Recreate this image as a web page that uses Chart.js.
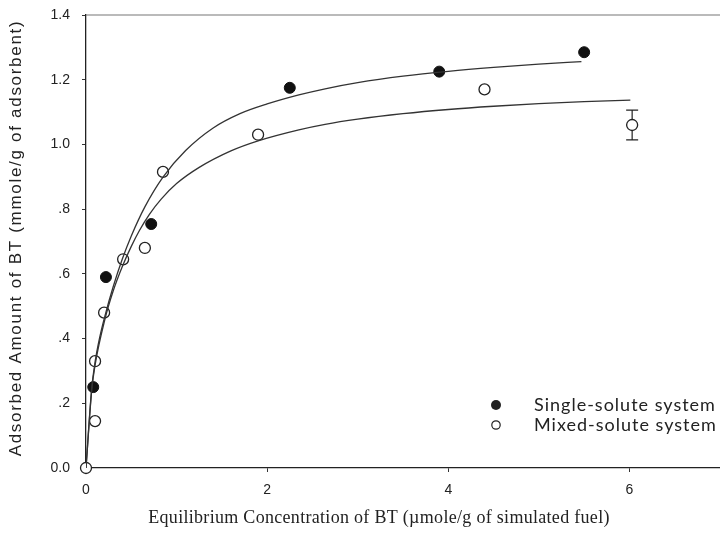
<!DOCTYPE html>
<html>
<head>
<meta charset="utf-8">
<script src="https://cdn.jsdelivr.net/npm/chart.js@4.4.1/dist/chart.umd.min.js"></script>
<style>
  html, body { margin: 0; padding: 0; background: #fff; }
  #wrap { width: 720px; height: 551px; position: relative; }
</style>
</head>
<body>
<div id="wrap"><canvas id="chart"></canvas></div>
<script>
// BT adsorption isotherms: single-solute vs mixed-solute

// measured points
const singleX = [0.08, 0.22, 0.72, 2.25, 3.90, 5.50];
const singleY = [0.25, 0.59, 0.754, 1.175, 1.225, 1.285];
const mixedX = [0, 0.10, 0.10, 0.20, 0.41, 0.65, 0.85, 1.90, 4.40, 6.03];
const mixedY = [0, 0.145, 0.33, 0.48, 0.645, 0.68, 0.915, 1.03, 1.17, 1.06];
const mixedErr = [0, 0, 0, 0, 0, 0, 0, 0, 0, 0.046];

// fitted isotherm curves
const singleFitX = [0, 0.063, 0.1, 0.15, 0.21, 0.3, 0.4, 0.5, 0.65, 0.85, 1.1, 1.4, 1.7, 2.0, 2.35, 2.64, 3.0, 3.5, 4.0, 4.5, 5.0, 5.47];
const singleFitY = [0, 0.246, 0.327, 0.402, 0.471, 0.560, 0.645, 0.717, 0.807, 0.899, 0.981, 1.050, 1.095, 1.125, 1.153, 1.172, 1.191, 1.211, 1.226, 1.238, 1.248, 1.256];
const mixedFitX = [0, 0.063, 0.1, 0.21, 0.3, 0.4, 0.5, 0.59, 0.7, 0.83, 1.0, 1.25, 1.6, 1.9, 2.35, 2.64, 3.0, 3.5, 4.0, 4.5, 5.0, 5.5, 6.01];
const mixedFitY = [0, 0.240, 0.318, 0.461, 0.547, 0.622, 0.685, 0.734, 0.784, 0.831, 0.879, 0.929, 0.980, 1.011, 1.045, 1.062, 1.078, 1.095, 1.108, 1.118, 1.126, 1.132, 1.137];

// axes
const xTicks = [0, 2, 4, 6];
const yTicks = [0, 0.2, 0.4, 0.6, 0.8, 1.0, 1.2, 1.4];
const yTickLabels = ['0.0', '.2', '.4', '.6', '.8', '1.0', '1.2', '1.4'];

const xTitle = 'Equilibrium Concentration of BT (\u00b5mole/g of simulated fuel)';
const yTitle = 'Adsorbed Amount of BT (mmole/g of adsorbent)';
const legendLabels = ['Single-solute system', 'Mixed-solute system'];

const toPoints = (xs, ys) => xs.map((x, i) => ({ x: x, y: ys[i] }));

// error bars, frame top line, titles and in-plot legend
const extras = {
  id: 'extras',
  afterDatasetsDraw(chart) {
    const ctx = chart.ctx;
    const xs = chart.scales.x, ys = chart.scales.y;
    const area = chart.chartArea;
    ctx.save();

    ctx.strokeStyle = '#222';
    ctx.lineWidth = 1.2;
    mixedErr.forEach((e, i) => {
      if (!e) return;
      const px = xs.getPixelForValue(mixedX[i]);
      const mid = ys.getPixelForValue(mixedY[i]);
      const top = ys.getPixelForValue(mixedY[i] + e);
      const bot = ys.getPixelForValue(mixedY[i] - e);
      ctx.beginPath();
      ctx.moveTo(px, top); ctx.lineTo(px, mid - 5);
      ctx.moveTo(px, mid + 5); ctx.lineTo(px, bot);
      ctx.moveTo(px - 6, top); ctx.lineTo(px + 6, top);
      ctx.moveTo(px - 6, bot); ctx.lineTo(px + 6, bot);
      ctx.stroke();
    });

    // top frame
    ctx.strokeStyle = '#777';
    ctx.lineWidth = 1.2;
    ctx.beginPath();
    ctx.moveTo(area.left, area.top);
    ctx.lineTo(area.right, area.top);
    ctx.stroke();

    // axis titles
    ctx.fillStyle = '#222';
    ctx.textAlign = 'center';
    ctx.textBaseline = 'middle';
    ctx.font = '18px "Liberation Serif"';
    ctx.letterSpacing = '0.3px';
    ctx.fillText(xTitle, 379, 518);

    ctx.save();
    ctx.translate(16, 238);
    ctx.rotate(-Math.PI / 2);
    ctx.font = '17px "Liberation Sans"';
    ctx.letterSpacing = '1.7px';
    ctx.fillText(yTitle, 0, 0);
    ctx.restore();

    // legend
    ctx.font = '18px "Lato"';
    ctx.letterSpacing = '1px';
    ctx.textAlign = 'left';
    ctx.fillStyle = '#222';
    ctx.beginPath();
    ctx.arc(496, 405, 5, 0, Math.PI * 2);
    ctx.fill();
    ctx.beginPath();
    ctx.arc(496, 425, 4.2, 0, Math.PI * 2);
    ctx.lineWidth = 1.2;
    ctx.strokeStyle = '#222';
    ctx.stroke();
    ctx.fillText(legendLabels[0], 534, 405);
    ctx.fillText(legendLabels[1], 534, 425);

    ctx.restore();
  }
};

new Chart(document.getElementById('chart'), {
  type: 'scatter',
  data: {
    datasets: [
      {
        label: 'single fit',
        data: toPoints(singleFitX, singleFitY),
        showLine: true,
        borderColor: '#333',
        borderWidth: 1.3,
        pointRadius: 0,
        cubicInterpolationMode: 'monotone',
        fill: false
      },
      {
        label: 'mixed fit',
        data: toPoints(mixedFitX, mixedFitY),
        showLine: true,
        borderColor: '#333',
        borderWidth: 1.3,
        pointRadius: 0,
        cubicInterpolationMode: 'monotone',
        fill: false
      },
      {
        label: legendLabels[0],
        data: toPoints(singleX, singleY),
        pointStyle: 'circle',
        pointRadius: 5.5,
        backgroundColor: '#111',
        borderColor: '#111',
        borderWidth: 1,
        clip: false
      },
      {
        label: legendLabels[1],
        data: toPoints(mixedX, mixedY),
        pointStyle: 'circle',
        pointRadius: 5.5,
        backgroundColor: '#fff',
        borderColor: '#222',
        borderWidth: 1.3,
        clip: false
      }
    ]
  },
  options: {
    responsive: true,
    maintainAspectRatio: false,
    animation: false,
    layout: { autoPadding: false, padding: { top: 15, right: 0, left: 0, bottom: 0 } },
    plugins: {
      legend: { display: false },
      tooltip: { enabled: false }
    },
    scales: {
      x: {
        type: 'linear',
        min: 0,
        max: 7,
        afterBuildTicks: s => { s.ticks = xTicks.map(v => ({ value: v })); },
        afterFit: s => { s.height = 83; s.paddingLeft = 0; s.paddingRight = 0; },
        grid: { drawOnChartArea: false, tickLength: 4, color: '#333' },
        border: { color: '#222', width: 1.3 },
        ticks: { color: '#222', font: { family: 'Liberation Sans', size: 14 }, padding: 10, maxRotation: 0 }
      },
      y: {
        min: 0,
        max: 1.4,
        afterBuildTicks: s => { s.ticks = yTicks.map(v => ({ value: v })); },
        afterFit: s => { s.width = 86; s.paddingTop = 0; s.paddingBottom = 0; },
        grid: { drawOnChartArea: false, tickLength: 4, color: '#333' },
        border: { color: '#222', width: 1.3 },
        ticks: {
          color: '#222',
          font: { family: 'Liberation Sans', size: 14 },
          padding: 12,
          callback: (v, i) => yTickLabels[i]
        }
      }
    }
  },
  plugins: [extras]
});
</script>
</body>
</html>
